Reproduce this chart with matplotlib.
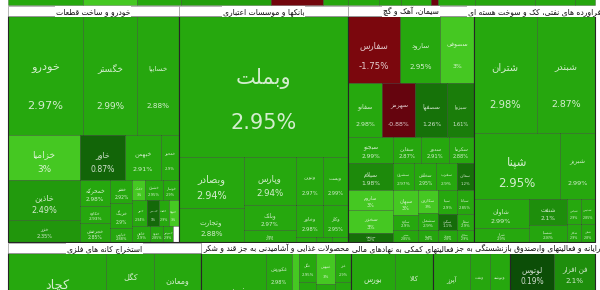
import numpy as np
import matplotlib
matplotlib.use("Agg")
import matplotlib.pyplot as plt
from matplotlib.patches import Rectangle

plt.rcParams['font.family'] = ['DejaVu Sans']

# ---------------- data ----------------
# previous (scrolled off) row, only its bottom edge is visible
PREV_SIZE = [75, 54, 43, 90, 52, 25, 31, 22, 30, 7, 36, 60, 40, 20]
PREV_PCT = [2.95, 3.0, 2.9, 2.6, -1.4, 2.85, 2.9, 2.8, 2.9, -1.2, 2.9, 2.85, 2.9, 2.8]

AUTO_TITLE = 'خودرو و ساخت قطعات'
AUTO_NAMES = ['خودرو', 'خگستر', 'خسایپا', 'خزامیا', 'خاذین', 'خزر', 'خاور', 'خبهمن', 'خمحور',
              'خمحرکه', 'خکاوه', 'خچرخش', 'خفنر', 'خرینگ', 'خپارس', 'خکمک', 'خشرق', 'خوساز',
              'ختور', 'خنصیر', 'خلنت', 'ختوقا', 'خاهن', 'خفولا', 'خموتور', '']
AUTO_PCT = [2.97, 2.99, 2.88, 3.0, 2.49, 2.35, 0.87, 2.91, 2.9,
            2.98, 2.93, 2.85, 2.92, 2.9, 2.88, 3.0, 2.95, 2.9,
            2.94, 1.0, 2.9, 3.0, 2.9, 2.85, 2.9, np.nan]
AUTO_SIZE = [8925, 6426, 4879, 3240, 2880, 1584, 2025, 1575, 810,
             780, 510, 570, 506, 550, 308, 260, 340, 320,
             390, 286, 260, 260, 288, 192, 160, 96]
AUTO_TREE = ('v', [('h', [0, 1, 2]),
                   ('h', [('v', [3, 4, 5]),
                          ('v', [('h', [6, 7, 8]),
                                 ('h', [('v', [9, 10, 11]), ('v', [12, 13, 14]),
                                        ('v', [('h', [15, 16, 17]), ('h', [18, 19, 20, 21]),
                                               ('h', [22, 23, 24, 25])])])])])])

BANK_TITLE = 'بانکها و موسسات اعتباری'
BANK_NAMES = ['وبملت', 'وبصادر', 'وتجارت', 'وپارس', 'وبانک', 'وسینا', 'ونوین', 'وپست',
              'وخاور', 'وکار', 'وسرمد', 'وآیند', 'ودی']
BANK_PCT = [2.95, 2.94, 2.88, 2.94, 2.97, 2.9, 2.97, 2.99, 2.98, 2.95, 2.9, 2.8, 2.9]
BANK_SIZE = [23829, 3315, 2210, 2496, 1300, 624, 1296, 1200, 864, 800, 100, 80, 80]
BANK_TREE = ('v', [0, ('h', [('v', [1, 2]), ('v', [3, 4, 5]),
                             ('v', [('h', [6, 7]), ('h', [8, 9]), ('h', [10, 11, 12])])])])

CEM_TITLE = 'سیمان، آهک و گچ'
CEM_NAMES = ['سفارس', 'سارود', 'سصوفی', 'سفانو', 'سهرمز', 'سصفها', 'سبزوا', 'سبجنو',
             'سیلام', 'ساروم', 'سخزر', 'سدشت', 'سقاین', 'سدور', 'سکرما', 'سشرق', 'سخاش',
             'سغرب', 'سمازن', 'سبهان', 'ساوه', 'سنیر', 'سکارون', 'سشمال', 'سرود', 'سیتا',
             'سپاها', 'سکرد', 'سفار', 'سمتاز', 'سجام']
CEM_PCT = [-1.75, 2.95, 3.0, 2.98, -0.88, 1.26, 1.61, 2.99,
           1.98, 3.0, 3.0, 1.2, 2.87, 2.91, 2.88, 2.97, 2.95,
           2.9, 1.2, 3.0, 2.9, 2.85, 3.0, 2.9, 2.8, 2.9,
           2.85, 1.1, 2.9, 2.8, 2.9]
CEM_SIZE = [3484, 2680, 2211, 1836, 1782, 1728, 1404, 1170,
            1215, 900, 1035, 405, 728, 702, 650, 567, 594,
            540, 459, 625, 375, 300, 460, 340, 240, 432,
            408, 288, 272, 216, 204]
CEM_TREE = ('v', [('h', [0, 1, 2]), ('h', [3, 4, 5, 6]),
                  ('h', [('v', [7, 8, 9, 10, 11]),
                         ('v', [('h', [12, 13, 14]), ('h', [15, 16, 17, 18]),
                                ('h', [('v', [19, 20, 21]), ('v', [22, 23, 24]),
                                       ('v', [('h', [25, 26]), ('h', [27, 28]), ('h', [29, 30])])])])])])

OIL_TITLE = 'فراورده های نفتی، کک و سوخت هسته ای'
OIL_NAMES = ['شتران', 'شبندر', 'شپنا', 'شبریز', 'شاوان', 'شراز', 'شنفت', 'شسپا',
             'شپاس', 'شدیس', 'شکلر', 'شفن']
OIL_PCT = [2.98, 2.87, 2.95, 2.99, 2.99, 2.9, 2.1, 2.8, 2.9, 2.85, 2.9, 2.8]
OIL_SIZE = [7371, 6786, 5676, 2310, 1595, 770, 988, 646, 350, 350, 252, 252]
OIL_TREE = ('v', [('h', [0, 1]), ('h', [2, 3]),
                  ('h', [('v', [4, 5]), ('v', [6, 7]), ('v', [('h', [8, 9]), ('h', [10, 11])])])])

MET_TITLE = 'استخراج کانه های فلزی'
MET_NAMES = ['کچاد', 'کنور', 'کگل', 'کدما', 'ومعادن', 'کمنگنز']
MET_PCT = [2.9, 2.9, 2.9, 2.9, 2.95, 2.9]
MET_SIZE = [6534, 1584, 2400, 1536, 2585, 1269]
MET_TREE = ('h', [('v', [0, 1]), ('v', [2, 3]), ('v', [4, 5])])

FOOD_TITLE = 'محصولات غذایی و آشامیدنی به جز قند و شکر'
FOOD_NAMES = ['غبشهر', 'غکورش', 'غمارگ', 'غپاک', 'غگل', 'غدام', 'غنوش', 'غبهنوش', 'غزر', 'غسالم']
FOOD_PCT = [2.92, 2.98, 2.9, 3.0, 2.95, 2.9, 3.0, 2.9, 2.9, 2.9]
FOOD_SIZE = [5330, 910, 1222, 574, 468, 1008, 532, 1026, 416, 896]
FOOD_TREE = ('h', [0, ('v', [1, 2]), 3, ('v', [4, 5]), ('v', [6, 7]), ('v', [8, 9])])

FIN_TITLE = 'فعالیتهای کمکی به نهادهای مالی واسط'
FIN_NAMES = ['بورس', 'فرابورس', 'کالا', 'سپرده']
FIN_PCT = [2.9, 2.9, 2.95, 2.9]
FIN_SIZE = [2288, 1320, 1976, 1140]
FIN_TREE = ('h', [('v', [0, 1]), ('v', [2, 3])])

PEN_TITLE = 'صندوق بازنشستگی به جز تامین اجتماعی'
PEN_NAMES = ['آپرز', 'وصندوق', 'ونفت', 'وپسا', 'وتوشه', 'ساپا']
PEN_PCT = [2.9, 2.9, 2.85, 2.9, 2.9, 2.9]
PEN_SIZE = [1924, 1110, 1040, 600, 1092, 630]
PEN_TREE = ('h', [('v', [0, 1]), ('v', [2, 3]), ('v', [4, 5])])

IT_TITLE = 'رایانه و فعالیتهای وابسته به آن'
IT_NAMES = ['لوتوس', 'سیستم', 'فن افزار', 'مفاخر']
IT_PCT = [0.19, 2.9, 2.1, 2.9]
IT_SIZE = [1452, 2156, 1353, 2009]
IT_TREE = ('h', [('v', [0, 1]), ('v', [2, 3])])

TOP_SECTORS = [(AUTO_TITLE, AUTO_NAMES, AUTO_PCT, AUTO_SIZE, AUTO_TREE),
               (BANK_TITLE, BANK_NAMES, BANK_PCT, BANK_SIZE, BANK_TREE),
               (CEM_TITLE, CEM_NAMES, CEM_PCT, CEM_SIZE, CEM_TREE),
               (OIL_TITLE, OIL_NAMES, OIL_PCT, OIL_SIZE, OIL_TREE)]
BOTTOM_SECTORS = [(MET_TITLE, MET_NAMES, MET_PCT, MET_SIZE, MET_TREE),
                  (FOOD_TITLE, FOOD_NAMES, FOOD_PCT, FOOD_SIZE, FOOD_TREE),
                  (FIN_TITLE, FIN_NAMES, FIN_PCT, FIN_SIZE, FIN_TREE),
                  (PEN_TITLE, PEN_NAMES, PEN_PCT, PEN_SIZE, PEN_TREE),
                  (IT_TITLE, IT_NAMES, IT_PCT, IT_SIZE, IT_TREE)]

# ---------------- persian shaping (no bidi lib available) ----------------
FORMS = {
    'ا': (0xFE8D, 0xFE8E, None, None), 'آ': (0xFE81, 0xFE82, None, None),
    'ب': (0xFE8F, 0xFE90, 0xFE91, 0xFE92), 'پ': (0xFB56, 0xFB57, 0xFB58, 0xFB59),
    'ت': (0xFE95, 0xFE96, 0xFE97, 0xFE98), 'ث': (0xFE99, 0xFE9A, 0xFE9B, 0xFE9C),
    'ج': (0xFE9D, 0xFE9E, 0xFE9F, 0xFEA0), 'چ': (0xFB7A, 0xFB7B, 0xFB7C, 0xFB7D),
    'ح': (0xFEA1, 0xFEA2, 0xFEA3, 0xFEA4), 'خ': (0xFEA5, 0xFEA6, 0xFEA7, 0xFEA8),
    'د': (0xFEA9, 0xFEAA, None, None), 'ذ': (0xFEAB, 0xFEAC, None, None),
    'ر': (0xFEAD, 0xFEAE, None, None), 'ز': (0xFEAF, 0xFEB0, None, None),
    'ژ': (0xFB8A, 0xFB8B, None, None),
    'س': (0xFEB1, 0xFEB2, 0xFEB3, 0xFEB4), 'ش': (0xFEB5, 0xFEB6, 0xFEB7, 0xFEB8),
    'ص': (0xFEB9, 0xFEBA, 0xFEBB, 0xFEBC), 'ض': (0xFEBD, 0xFEBE, 0xFEBF, 0xFEC0),
    'ط': (0xFEC1, 0xFEC2, 0xFEC3, 0xFEC4), 'ظ': (0xFEC5, 0xFEC6, 0xFEC7, 0xFEC8),
    'ع': (0xFEC9, 0xFECA, 0xFECB, 0xFECC), 'غ': (0xFECD, 0xFECE, 0xFECF, 0xFED0),
    'ف': (0xFED1, 0xFED2, 0xFED3, 0xFED4), 'ق': (0xFED5, 0xFED6, 0xFED7, 0xFED8),
    'ک': (0xFB8E, 0xFB8F, 0xFB90, 0xFB91), 'گ': (0xFB92, 0xFB93, 0xFB94, 0xFB95),
    'ل': (0xFEDD, 0xFEDE, 0xFEDF, 0xFEE0), 'م': (0xFEE1, 0xFEE2, 0xFEE3, 0xFEE4),
    'ن': (0xFEE5, 0xFEE6, 0xFEE7, 0xFEE8), 'و': (0xFEED, 0xFEEE, None, None),
    'ه': (0xFEE9, 0xFEEA, 0xFEEB, 0xFEEC), 'ی': (0xFBFC, 0xFBFD, 0xFBFE, 0xFBFF),
    'ئ': (0xFE89, 0xFE8A, 0xFE8B, 0xFE8C),
}
LAM_ALEF = {'ا': (0xFEFB, 0xFEFC), 'آ': (0xFEF5, 0xFEF6)}


def shape(text):
    out = []
    i = 0
    n = len(text)
    while i < n:
        ch = text[i]
        if ch not in FORMS:
            out.append(ch)
            i += 1
            continue
        prev = text[i - 1] if i > 0 else ''
        joins_prev = prev in FORMS and FORMS[prev][2] is not None
        nxt = text[i + 1] if i + 1 < n else ''
        if ch == 'ل' and nxt in LAM_ALEF:
            out.append(chr(LAM_ALEF[nxt][1 if joins_prev else 0]))
            i += 2
            continue
        f = FORMS[ch]
        joins_next = f[2] is not None and nxt in FORMS
        if joins_prev and joins_next:
            c = f[3]
        elif joins_prev:
            c = f[1]
        elif joins_next:
            c = f[2]
        else:
            c = f[0]
        out.append(chr(c))
        i += 1
    return ''.join(reversed(out))


# ---------------- layout ----------------
def total(node, sizes):
    if isinstance(node, int):
        return sizes[node]
    return sum(total(k, sizes) for k in node[1])


def place(node, x, y, w, h, sizes, out):
    if isinstance(node, int):
        out.append((node, x, y, w, h))
        return
    orient, kids = node
    tot = total(node, sizes)
    off = 0.0
    for k in kids:
        frac = total(k, sizes) / tot
        if orient == 'h':
            place(k, x + off, y, w * frac, h, sizes, out)
            off += w * frac
        else:
            place(k, x, y + off, w, h * frac, sizes, out)
            off += h * frac


def mix(a, b, t):
    return tuple((a[i] + (b[i] - a[i]) * t) / 255 for i in range(3))


def cell_color(p):
    if np.isnan(p):
        return 'white'
    if p >= 3:
        return '#45c822'
    if p >= 0:
        return mix((10, 72, 6), (38, 168, 14), min(p / 2.9, 1))
    return mix((78, 0, 16), (155, 12, 10), min(-p / 3, 1))


def pct_text(p):
    return '{:g}%'.format(p)


X0, X1 = 8, 595
HEAD = 10

fig = plt.figure(figsize=(6, 2.9), dpi=100)
ax = fig.add_axes([0, 0, 1, 1])
ax.set_xlim(0, 600)
ax.set_ylim(290, 0)
ax.axis('off')


def draw_cells(names, pcts, sizes, tree, x, y, w, h):
    cells = []
    place(tree, x, y, w, h, sizes, cells)
    for i, cx, cy, cw, ch in cells:
        p = pcts[i]
        ax.add_patch(Rectangle((cx, cy), cw, ch, fc=cell_color(p),
                               ec=(0, 0, 0, 0.28), lw=0.6))
        if np.isnan(p) or cw < 10 or ch < 9:
            continue
        fs = max(0.32 * min(cw, 1.2 * ch) ** 0.75, 2.3)
        kw = dict(ha='center', va='center', color='white', alpha=0.8,
                  fontsize=fs, clip_on=True)
        ax.text(cx + cw / 2, cy + 0.44 * ch, shape(names[i]), **kw)
        ax.text(cx + cw / 2, cy + 0.76 * ch, pct_text(p), **kw)


def draw_band(sectors, y0, y1):
    totals = [total(s[4], s[3]) for s in sectors]
    grand = sum(totals)
    x = X0
    boxes = []
    for s, t in zip(sectors, totals):
        w = (X1 - X0) * t / grand
        draw_cells(s[1], s[2], s[3], s[4], x, y0 + HEAD, w, y1 - y0 - HEAD)
        ax.add_patch(Rectangle((x, y0 + HEAD), w, y1 - y0 - HEAD, fc='none',
                               ec='#262626', lw=0.8))
        ax.add_patch(Rectangle((x, y0), w, HEAD, fc='white', ec='#9a9a9a', lw=0.5))
        boxes.append((s[0], x, w))
        x += w
    # titles are drawn right to left, each one on a white box
    for title, bx, bw in reversed(boxes):
        ax.text(bx + bw / 2, y0 + HEAD / 2 + 0.5, shape(title), ha='center', va='center',
                fontsize=5.5, color='#111111', clip_on=True,
                bbox=dict(boxstyle='square,pad=0.1', fc='white', ec='none'))


# previous row (cut off at the top)
prev_cells = []
place(('h', list(range(len(PREV_SIZE)))), X0, -60, X1 - X0, 65, PREV_SIZE, prev_cells)
for i, cx, cy, cw, ch in prev_cells:
    ax.add_patch(Rectangle((cx, cy), cw, ch, fc=cell_color(PREV_PCT[i]),
                           ec=(0, 0, 0, 0.28), lw=0.6))

draw_band(TOP_SECTORS, 6, 242)
draw_band(BOTTOM_SECTORS, 243, 345)

fig.savefig('out.png', dpi=100, facecolor='white')
